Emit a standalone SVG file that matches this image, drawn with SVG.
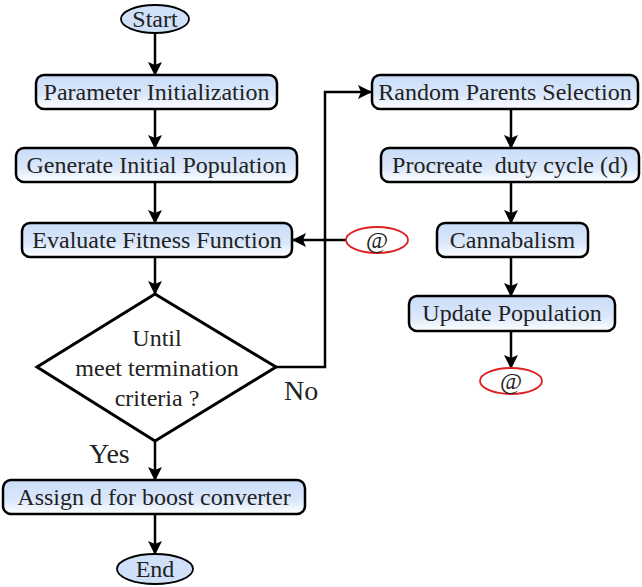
<svg xmlns="http://www.w3.org/2000/svg" width="642" height="587" viewBox="0 0 642 587">
<defs>
<linearGradient id="g" x1="0" y1="0" x2="0" y2="1">
<stop offset="0" stop-color="#c9dcf8"/>
<stop offset="0.6" stop-color="#dbe8fb"/>
<stop offset="1" stop-color="#ffffff"/>
</linearGradient>
<marker id="ah" viewBox="0 0 14 14" refX="13" refY="7" markerWidth="14" markerHeight="14" markerUnits="userSpaceOnUse" orient="auto">
<path d="M0,0 L14,7 L0,14 L3,7 Z" fill="#000"/>
</marker>
<style>
.box{fill:url(#g);stroke:#000;stroke-width:2.5}
.term{fill:#cfe0f8;stroke:#000;stroke-width:1.8}
.conn{fill:#fff;stroke:#e02020;stroke-width:1.8}
.dia{fill:#fff;stroke:#000;stroke-width:3}
.t{font-family:'Liberation Serif','Times New Roman',serif;font-size:24px;fill:#222;text-anchor:middle}
.lbl{font-family:'Liberation Serif','Times New Roman',serif;font-size:28px;fill:#222}
.ln{fill:none;stroke:#000;stroke-width:2.5;marker-end:url(#ah)}
</style>
</defs>
<g id="connectors">
<path class="ln" d="M155,33 V75"/>
<path class="ln" d="M155,109 V148"/>
<path class="ln" d="M155,182 V223"/>
<path class="ln" d="M155,257 V294"/>
<path class="ln" d="M155,441 V480"/>
<path class="ln" d="M155,514 V554"/>
<path class="ln" d="M276,367 H325 V92 H371"/>
<path class="ln" d="M346,240 H293"/>
<path class="ln" d="M511,109 V148"/>
<path class="ln" d="M511,182 V223"/>
<path class="ln" d="M511,257 V296"/>
<path class="ln" d="M511,331 V368"/>
</g>
<g id="start"><ellipse class="term" cx="155" cy="19" rx="34" ry="14"/><text class="t" x="155" y="27">Start</text></g>
<g id="param"><rect class="box" x="36" y="75" width="241" height="34" rx="8"/><text class="t" x="156.5" y="100">Parameter Initialization</text></g>
<g id="gen"><rect class="box" x="16" y="148" width="281" height="34" rx="8"/><text class="t" x="156.5" y="173">Generate Initial Population</text></g>
<g id="eval"><rect class="box" x="22" y="223" width="270" height="34" rx="8"/><text class="t" x="157" y="248">Evaluate Fitness Function</text></g>
<g id="decision"><path class="dia" d="M155,294 L276,367 L155,441 L37,367 Z"/>
<text class="t" x="157" y="346">Until</text>
<text class="t" x="157" y="376">meet termination</text>
<text class="t" x="157" y="406">criteria ?</text></g>
<g id="assign"><rect class="box" x="3" y="480" width="302" height="34" rx="8"/><text class="t" x="154" y="505">Assign d for boost converter</text></g>
<g id="end"><ellipse class="term" cx="155" cy="569" rx="38" ry="15"/><text class="t" x="155" y="577">End</text></g>
<g id="random"><rect class="box" x="372" y="75" width="266" height="34" rx="8"/><text class="t" x="505" y="100">Random Parents Selection</text></g>
<g id="procreate"><rect class="box" x="381" y="148" width="258" height="34" rx="8"/><text class="t" x="510" y="173" xml:space="preserve">Procreate  duty cycle (d)</text></g>
<g id="cannibal"><rect class="box" x="437" y="223" width="151" height="34" rx="8"/><text class="t" x="512.5" y="248">Cannabalism</text></g>
<g id="update"><rect class="box" x="409" y="296" width="206" height="35" rx="8"/><text class="t" x="512" y="321">Update Population</text></g>
<g id="conn-in"><ellipse class="conn" cx="377" cy="240" rx="31" ry="13"/><text class="t" x="377" y="248">@</text></g>
<g id="conn-out"><ellipse class="conn" cx="511" cy="381" rx="31" ry="13"/><text class="t" x="511" y="389">@</text></g>
<g id="labels">
<text class="lbl" x="284" y="400">No</text>
<text class="lbl" x="89" y="463">Yes</text>
</g>
</svg>
